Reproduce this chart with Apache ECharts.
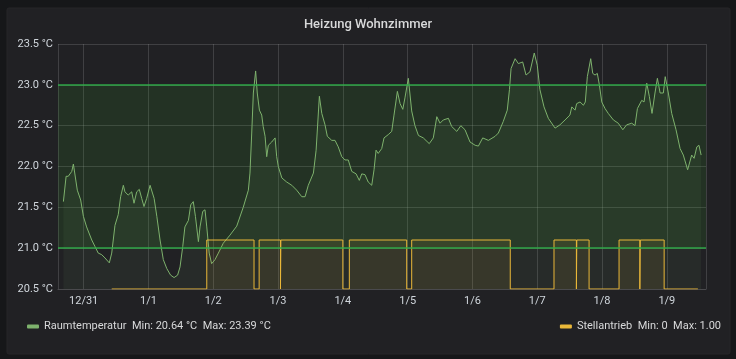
<!DOCTYPE html>
<html>
<head>
<meta charset="utf-8">
<style>
html,body{margin:0;padding:0;background:#161719;}
#c{width:736px;height:359px;}
</style>
<script src="https://cdn.jsdelivr.net/npm/echarts@6/dist/echarts.min.js"></script>
</head>
<body>
<div id="c"></div>
<script>
// Hours relative to 31 Dec 00:00 (UTC)
const tempHours = [-7.5,-6.5,-5.7,-4.4,-3.8,-3.2,-2.35,-1.1,-0.1,1.1,3.0,4.2,5.4,6.7,7.9,9.5,10.4,11.6,12.8,13.7,14.7,15.3,16.5,17.8,18.65,19.65,20.6,21.5,22.35,23.35,24.6,25.2,26.1,27.1,28.3,29.5,30.8,32.2,33.5,34.8,35.7,36.7,37.5,38.8,39.65,40.6,41.4,42.5,43.1,44.1,44.95,45.6,46.5,47.4,48.65,49.9,51.7,54.2,56.7,59.1,61.0,61.6,62.25,62.85,63.7,64.3,65.1,65.95,66.5,67.2,67.8,68.4,69.65,70.9,71.5,72.1,73.4,75.2,77.1,78.9,80.8,82.0,83.2,85.1,86.1,87.3,88.2,89.4,90.25,91.9,93.1,94.3,95.6,96.8,98.0,99.3,100.9,102.1,103.0,104.2,105.4,106.7,107.55,108.3,109.1,110.4,111.25,112.8,114.1,114.95,116.2,117.2,118.2,119.0,120.25,121.5,122.7,124.0,125.8,128.0,129.5,130.8,132.0,133.2,135.1,136.3,138.2,139.7,141.25,143.1,145.0,146.2,147.8,149.9,152.4,153.6,155.4,156.9,157.7,158.3,159.8,161.0,162.6,163.85,165.3,166.9,168.0,169.0,170.5,172.1,174.6,176.4,178.3,180.1,180.8,182.0,182.6,183.85,185.1,185.8,186.55,187.8,188.55,189.4,190.25,191.0,191.9,193.1,194.3,196.2,198.0,199.7,201.1,203.0,204.2,205.1,206.7,207.55,208.55,209.5,210.5,211.6,212.5,213.5,214.7,215.4,216.55,217.8,219.4,220.9,222.1,223.7,225.2,226.1,227.1,227.9,228.7];
const tempValues = [21.57,21.88,21.88,21.94,22.03,22.02,21.71,21.59,21.39,21.26,21.10,21.02,20.94,20.92,20.88,20.82,20.94,21.28,21.41,21.63,21.77,21.69,21.65,21.69,21.55,21.69,21.72,21.61,21.51,21.61,21.77,21.79,21.61,21.39,21.10,20.86,20.75,20.67,20.64,20.67,20.77,21.02,21.26,21.34,21.53,21.57,21.39,21.08,21.26,21.45,21.47,21.26,20.94,20.81,20.86,20.94,21.06,21.16,21.27,21.50,21.71,21.92,22.41,22.90,23.17,22.90,22.69,22.63,22.49,22.37,22.12,22.26,22.30,22.35,22.12,22.00,21.86,21.81,21.77,21.71,21.63,21.63,21.77,21.92,22.20,22.86,22.65,22.51,22.37,22.32,22.32,22.24,22.12,22.08,22.08,21.94,21.91,21.83,21.91,21.90,21.81,21.77,21.96,22.20,22.16,22.22,22.35,22.39,22.43,22.63,22.92,22.77,22.70,22.84,23.08,22.68,22.50,22.38,22.35,22.28,22.35,22.61,22.53,22.57,22.59,22.49,22.43,22.50,22.45,22.30,22.26,22.25,22.35,22.32,22.37,22.41,22.55,22.69,22.94,23.20,23.32,23.26,23.28,23.12,23.16,23.39,23.24,22.94,22.73,22.59,22.47,22.51,22.57,22.63,22.73,22.69,22.77,22.79,22.75,22.79,23.10,23.32,23.14,23.12,23.14,23.00,22.79,22.71,22.65,22.57,22.53,22.45,22.51,22.53,22.50,22.71,22.81,22.79,23.02,22.86,22.65,22.90,23.08,22.90,22.90,23.10,22.90,22.65,22.45,22.22,22.14,21.96,22.14,22.10,22.24,22.26,22.14];

const valveHours = [10.4,45.6,63.1,65.0,72.9,73.05,96.0,98.4,119.65,121.5,158.0,174.2,182.5,182.65,187.2,198.3,206.0,206.15,215.0,227.5];
const valveStates = [0,1,0,1,0,1,0,1,0,1,0,1,0,1,0,1,0,1,0,0];

const yTicks = [20.5, 23.5, 0.5]; // min, max, step
const thresholds = [21.0, 23.0];
const legendTemp = 'Raumtemperatur  Min: 20.64 °C  Max: 23.39 °C';
const legendValve = 'Stellantrieb  Min: 0  Max: 1.00';

const H = 3600000;
const base = Date.UTC(2018, 11, 31);
const toT = h => base + h * H;

const tempData = tempHours.map((h, i) => [toT(h), tempValues[i]]);
const valveData = valveHours.map((h, i) => [toT(h), valveStates[i]]);

const font = 'Roboto, "Noto Sans", sans-serif';
const chart = echarts.init(document.getElementById('c'), null, {renderer: 'canvas'});
chart.setOption({
  animation: false,
  useUTC: true,
  backgroundColor: '#161719',
  graphic: [{
    type: 'rect', z: -10, silent: true,
    shape: {x: 7, y: 8, width: 723, height: 346, r: 2},
    style: {fill: '#212124', stroke: '#262628', lineWidth: 1}
  }],
  title: {
    text: 'Heizung Wohnzimmer', left: 'center', top: 13,
    textStyle: {color: '#d8d9da', fontSize: 13, fontWeight: 500, fontFamily: font}
  },
  grid: {left: 58, right: 30, top: 44, bottom: 70},
  legend: [{
    data: ['Raumtemperatur'], left: 27, top: 321, padding: 0,
    icon: 'roundRect', itemWidth: 12, itemHeight: 4,
    formatter: () => legendTemp,
    textStyle: {color: '#d8d9da', fontSize: 11, fontFamily: font}
  }, {
    data: ['Stellantrieb'], right: 15, top: 321, padding: 0,
    icon: 'roundRect', itemWidth: 12, itemHeight: 4,
    formatter: () => legendValve,
    textStyle: {color: '#d8d9da', fontSize: 11, fontFamily: font}
  }],
  xAxis: {
    type: 'time',
    min: toT(-9.5), max: toT(230.5),
    minInterval: 24 * H, maxInterval: 24 * H,
    axisLine: {show: true, lineStyle: {color: '#4a4a4d'}},
    axisTick: {show: false},
    splitLine: {show: true, lineStyle: {color: 'rgba(160,160,160,0.25)', width: 1}},
    axisLabel: {
      color: '#d0d6dc', fontSize: 11, fontFamily: font, margin: 7,
      formatter: v => { const d = new Date(v); return (d.getUTCMonth() + 1) + '/' + d.getUTCDate(); }
    }
  },
  yAxis: [{
    type: 'value', min: yTicks[0], max: yTicks[1], interval: yTicks[2],
    axisLine: {show: false}, axisTick: {show: false},
    splitLine: {show: true, lineStyle: {color: 'rgba(160,160,160,0.25)', width: 1}},
    axisLabel: {color: '#d0d6dc', fontSize: 11, fontFamily: font, margin: 5,
      formatter: v => v.toFixed(1) + ' °C'}
  }, {
    type: 'value', min: 0, max: 5, show: false, splitLine: {show: false}
  }],
  series: [{
    name: 'Raumtemperatur', type: 'line', data: tempData, yAxisIndex: 0,
    showSymbol: false, symbol: 'none',
    lineStyle: {color: '#7eb26d', width: 1},
    itemStyle: {color: '#7eb26d'},
    areaStyle: {color: 'rgba(126,178,109,0.1)', origin: 'start'},
    markArea: {silent: true, itemStyle: {color: 'rgba(50,172,45,0.12)'},
      data: [[{yAxis: thresholds[0]}, {yAxis: thresholds[1]}]]},
    markLine: {silent: true, symbol: 'none', label: {show: false},
      lineStyle: {color: 'rgba(46,172,72,0.95)', type: 'solid', width: 1.5},
      data: thresholds.map(v => ({yAxis: v}))},
    z: 3
  }, {
    name: 'Stellantrieb', type: 'line', data: valveData, yAxisIndex: 1,
    step: 'end', showSymbol: false, symbol: 'none',
    lineStyle: {color: '#eab839', width: 1},
    itemStyle: {color: '#eab839'},
    areaStyle: {color: 'rgba(234,184,57,0.12)', origin: 'start'},
    z: 4
  }]
});
</script>
</body>
</html>
